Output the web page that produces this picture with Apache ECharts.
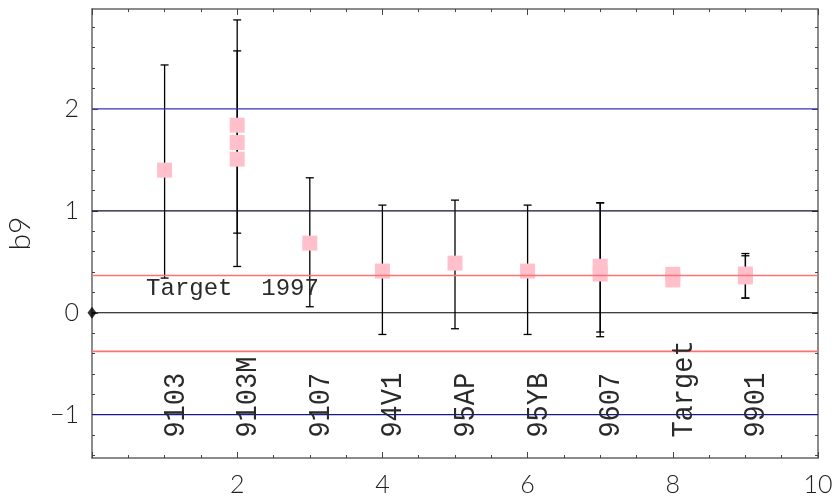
<!DOCTYPE html>
<html>
<head>
<meta charset="utf-8">
<script src="https://cdn.jsdelivr.net/npm/echarts@6/dist/echarts.min.js"></script>
<style>
  html, body { margin: 0; padding: 0; background: #fff; }
  #chart { width: 835px; height: 498px; }
</style>
</head>
<body>
<div id="chart"></div>
<script>
// Survey estimates of b9: point estimates, confidence intervals and labels
const pointX = [1, 2, 2, 2, 3, 4, 5, 6, 7, 7, 8, 8, 9, 9];
const pointY = [1.399, 1.840, 1.670, 1.507, 0.683, 0.409, 0.487, 0.409, 0.456, 0.380, 0.377, 0.322, 0.380, 0.351];

const barX    = [1, 2, 2, 3, 4, 5, 6, 7, 7, 9, 9];
const barLow  = [0.340, 0.781, 0.454, 0.059, -0.213, -0.157, -0.213, -0.189, -0.235, 0.144, 0.144];
const barHigh = [2.431, 2.569, 2.873, 1.324, 1.056, 1.105, 1.056, 1.078, 1.078, 0.581, 0.559];

const labelX = [1, 2, 3, 4, 5, 6, 7, 8, 9];
const labelText = ['9103', '9103M', '9107', '94V1', '95AP', '95YB', '9607', 'Target', '9901'];
const labelStartY = -1.225;

const targetNoteX = 0.745;
const targetNoteY = 0.233;
const targetNoteText = 'Target  1997';

// Reference levels: outer bands, unit line, zero line, target bounds
const refLevels = [2, 1, 0, -1, 0.366, -0.379];
const refColors = ['#3434b4', '#101030', '#000000', '#18188a', '#ff7272', '#ff7272'];

const yMin = -1.425, yMax = 2.98;
const xMin = 0, xMax = 10;
const yMajorTicks = [-1, 0, 1, 2];
const yMinorTicks = [-1.4, -1.2, -0.8, -0.6, -0.4, -0.2, 0.2, 0.4, 0.6, 0.8,
                     1.2, 1.4, 1.6, 1.8, 2.2, 2.4, 2.6, 2.8];

const chart = echarts.init(document.getElementById('chart'), null, { renderer: 'canvas' });

const tickFont = { fontFamily: 'Lato', fontWeight: 300, fontSize: 25, color: '#222' };
const frameColor = '#666';
const minusSign = v => String(v).replace('-', '\u2212');

function yAxisDef(position, ticks, len, showLine, showLabel) {
  return {
    type: 'value', position: position, min: yMin, max: yMax,
    axisLine: { show: showLine, lineStyle: { color: frameColor, width: 1.5 } },
    axisTick: { show: true, inside: true, length: len, customValues: ticks,
                lineStyle: { color: '#444', width: 1 } },
    axisLabel: showLabel
      ? Object.assign({ show: true, customValues: ticks, margin: 13, formatter: minusSign }, tickFont)
      : { show: false },
    splitLine: { show: false }
  };
}

function xAxisDef(position, showLabel) {
  return {
    type: 'value', position: position, min: xMin, max: xMax, interval: 2,
    axisLine: { show: true, onZero: false, lineStyle: { color: frameColor, width: 1.5 } },
    axisTick: { show: true, inside: true, length: 6, lineStyle: { color: '#444', width: 1 } },
    minorTick: { show: true, splitNumber: 4, length: 3, lineStyle: { color: '#444', width: 1 } },
    axisLabel: showLabel
      ? Object.assign({ show: true, margin: 14, formatter: v => (v === 0 ? '' : String(v)) }, tickFont)
      : { show: false },
    splitLine: { show: false },
    minorSplitLine: { show: false }
  };
}

const leftMajor = yAxisDef('left', yMajorTicks, 6, true, true);
leftMajor.name = 'b9';
leftMajor.nameLocation = 'middle';
leftMajor.nameRotate = 90;
leftMajor.nameGap = 57;
leftMajor.nameTextStyle = { fontFamily: 'Lato', fontWeight: 300, fontSize: 30, color: '#222' };

const option = {
  animation: false,
  grid: { left: 92, right: 17, top: 9, bottom: 40, containLabel: false, outerBoundsMode: 'none' },
  xAxis: [xAxisDef('bottom', true), xAxisDef('top', false)],
  yAxis: [
    leftMajor,
    yAxisDef('left', yMinorTicks, 3, false, false),
    yAxisDef('right', yMajorTicks, 6, true, false),
    yAxisDef('right', yMinorTicks, 3, false, false)
  ],
  series: [
    {
      // confidence intervals with end caps
      type: 'custom', name: 'intervals', z: 2, clip: false,
      data: barX.map((x, i) => [x, barLow[i], barHigh[i]]),
      encode: { x: 0, y: [1, 2] },
      renderItem: function (params, api) {
        const x = api.value(0);
        const lo = api.coord([x, api.value(1)]);
        const hi = api.coord([x, api.value(2)]);
        const hw = 4;
        const st = { stroke: '#000', lineWidth: 1.3 };
        return {
          type: 'group',
          children: [
            { type: 'line', shape: { x1: lo[0], y1: lo[1], x2: hi[0], y2: hi[1] }, style: st },
            { type: 'line', shape: { x1: lo[0] - hw, y1: lo[1], x2: lo[0] + hw, y2: lo[1] }, style: st },
            { type: 'line', shape: { x1: hi[0] - hw, y1: hi[1], x2: hi[0] + hw, y2: hi[1] }, style: st }
          ]
        };
      }
    },
    {
      type: 'scatter', name: 'estimates', z: 3,
      symbol: 'rect', symbolSize: 15,
      itemStyle: { color: '#ffc0cb', opacity: 1 },
      data: pointX.map((x, i) => [x, pointY[i]])
    },
    {
      // horizontal reference levels across the full x range
      type: 'custom', name: 'levels', z: 4, clip: false,
      data: refLevels.map(v => [v]),
      encode: { y: 0 },
      renderItem: function (params, api) {
        const v = api.value(0);
        const a = api.coord([xMin, v]);
        const b = api.coord([xMax, v]);
        const i = params.dataIndex;
        return {
          type: 'line',
          shape: { x1: a[0], y1: a[1], x2: b[0], y2: b[1] },
          style: { stroke: refColors[i], lineWidth: i >= 4 ? 1.6 : 1.2 }
        };
      }
    },
    {
      type: 'scatter', name: 'origin', z: 5, clip: false,
      symbol: 'diamond', symbolSize: [9, 12],
      itemStyle: { color: '#000' },
      data: [[0, 0]]
    },
    {
      // survey names, written upward from a common start level
      type: 'custom', name: 'names', z: 6, clip: false,
      data: labelX.map((x, i) => [x, labelStartY, labelText[i]]),
      renderItem: function (params, api) {
        const p = api.coord([api.value(0), api.value(1)]);
        return {
          type: 'text', x: p[0] + 11, y: p[1], rotation: Math.PI / 2, scaleY: 1.12,
          style: {
            text: labelText[params.dataIndex],
            font: '27px "Liberation Mono", monospace',
            fill: '#2a2a2a', align: 'left', verticalAlign: 'middle'
          }
        };
      }
    },
    {
      type: 'custom', name: 'note', z: 6, clip: false,
      data: [[targetNoteX, targetNoteY]],
      renderItem: function (params, api) {
        const p = api.coord([api.value(0), api.value(1)]);
        return {
          type: 'text', x: p[0], y: p[1],
          style: {
            text: targetNoteText,
            font: '24px "Liberation Mono", monospace',
            fill: '#2a2a2a', align: 'left', verticalAlign: 'middle'
          }
        };
      }
    }
  ]
};

chart.setOption(option);
</script>
</body>
</html>
